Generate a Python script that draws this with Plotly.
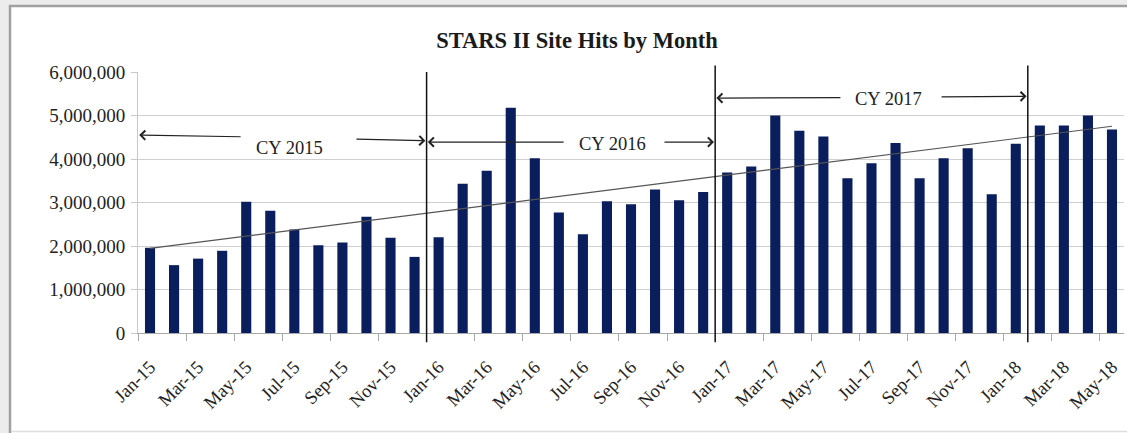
import numpy as np
import plotly.graph_objects as go

months = ["Jan-15","Feb-15","Mar-15","Apr-15","May-15","Jun-15","Jul-15","Aug-15","Sep-15","Oct-15","Nov-15","Dec-15",
          "Jan-16","Feb-16","Mar-16","Apr-16","May-16","Jun-16","Jul-16","Aug-16","Sep-16","Oct-16","Nov-16","Dec-16",
          "Jan-17","Feb-17","Mar-17","Apr-17","May-17","Jun-17","Jul-17","Aug-17","Sep-17","Oct-17","Nov-17","Dec-17",
          "Jan-18","Feb-18","Mar-18","Apr-18","May-18"]
hits = [1960000,1560000,1710000,1890000,3020000,2810000,2380000,2020000,2080000,2670000,2190000,1750000,
        2200000,3430000,3730000,5180000,4020000,2770000,2270000,3030000,2960000,3300000,3050000,3240000,
        3690000,3830000,5000000,4650000,4520000,3560000,3900000,4370000,3560000,4020000,4250000,3190000,
        4350000,4770000,4770000,5000000,4680000]
y_ticks = [0,1000000,2000000,3000000,4000000,5000000,6000000]
separators = ["Jan-16","Jan-17","Feb-18"]
period_labels = ["CY 2015","CY 2016","CY 2017"]

FONT = "Liberation Serif"
W, H = 1127, 433
ML, MR, MT, MB = 138, 3, 72, 100
PW, PH = W - ML - MR, H - MT - MB

idx = np.arange(len(hits))
slope, intercept = np.polyfit(idx, hits, 1)
trend = slope * idx + intercept

fig = go.Figure()
fig.add_trace(go.Bar(x=months, y=hits, marker=dict(color="#0a1d5c", line=dict(width=0)), showlegend=False))
fig.add_trace(go.Scatter(x=months, y=trend, mode="lines", line=dict(color="#555555", width=1.1), showlegend=False))

def px2paper_x(px):
    return (px - ML) / PW

def px2paper_y(py):
    return (H - MB - py) / PH

shapes = [
    dict(type="rect", xref="paper", yref="paper", layer="below",
         x0=px2paper_x(-5), x1=px2paper_x(9), y0=px2paper_y(440), y1=px2paper_y(-5),
         fillcolor="#ececec", line=dict(width=0)),
    dict(type="rect", xref="paper", yref="paper", layer="below",
         x0=px2paper_x(-5), x1=px2paper_x(1140), y0=px2paper_y(5), y1=px2paper_y(-5),
         fillcolor="#ececec", line=dict(width=0)),
    dict(type="line", xref="paper", yref="paper", layer="below",
         x0=px2paper_x(10), x1=px2paper_x(10), y0=px2paper_y(440), y1=px2paper_y(5),
         line=dict(color="#a0a0a0", width=2.5)),
    dict(type="line", xref="paper", yref="paper", layer="below",
         x0=px2paper_x(9), x1=px2paper_x(1140), y0=px2paper_y(6), y1=px2paper_y(6),
         line=dict(color="#a0a0a0", width=2.5)),
    dict(type="line", xref="paper", yref="paper", layer="below",
         x0=px2paper_x(11), x1=px2paper_x(1140), y0=px2paper_y(431.5), y1=px2paper_y(431.5),
         line=dict(color="#dedede", width=1.5)),
]
sep_top = [1.0, 1.025, 1.025]
for s, top in zip(separators, sep_top):
    xi = months.index(s) - 0.5
    shapes.append(dict(type="line", xref="x", yref="paper", x0=xi, x1=xi, y0=-0.035, y1=top,
                       line=dict(color="#111111", width=1.5), layer="above"))

# annotation layout
spans = [(-0.5, 11.5), (11.5, 23.5), (23.5, 36.5)]
label_x = [5.78, 19.25, 30.7]
label_y = [4250000, 4340000, 5390000]
left_end = [3.83, 17.26, 28.77]
right_start = [8.52, 21.33, 32.85]
arr_y_left = [4550000, 4390000, 5400000]
arr_y_right = [4420000, 4390000, 5440000]

annotations = []
for i, lab in enumerate(period_labels):
    annotations.append(dict(x=label_x[i], y=label_y[i], xref="x", yref="y", text=lab, showarrow=False,
                            font=dict(family=FONT, size=18.5, color="#222222")))
    annotations.append(dict(x=spans[i][0] + 0.05, y=arr_y_left[i], ax=left_end[i], ay=arr_y_left[i] - (arr_y_left[i]-arr_y_right[i])*0.3,
                            xref="x", yref="y", axref="x", ayref="y", text="", showarrow=True,
                            arrowhead=4, arrowsize=1.5, arrowwidth=1.2, arrowcolor="#222222", standoff=0))
    annotations.append(dict(x=spans[i][1] - 0.05, y=arr_y_right[i], ax=right_start[i], ay=arr_y_right[i] + (arr_y_left[i]-arr_y_right[i])*0.3,
                            xref="x", yref="y", axref="x", ayref="y", text="", showarrow=True,
                            arrowhead=4, arrowsize=1.5, arrowwidth=1.2, arrowcolor="#222222", standoff=0))

fig.update_layout(
    width=W, height=H,
    margin=dict(l=ML, r=MR, t=MT, b=MB, autoexpand=False),
    paper_bgcolor="white", plot_bgcolor="white",
    title=dict(text="<b>STARS II Site Hits by Month</b>", x=(577 / W), xanchor="center", y=1 - 40 / H, yanchor="middle",
               font=dict(family=FONT, size=22.5, color="#1a1a1a"), automargin=False),
    bargap=0.58,
    shapes=shapes, annotations=annotations,
    font=dict(family=FONT, color="#222222"),
)
fig.update_xaxes(type="category", tickmode="linear", dtick=2, tick0=0, tickson="boundaries",
                 ticks="outside", ticklen=7, tickcolor="#a8a8a8", tickangle=-45, automargin=False,
                 tickfont=dict(family=FONT, size=18.5, color="#222222"), ticklabelstandoff=15,
                 showline=True, linecolor="#a8a8a8", linewidth=1, showgrid=False,
                 range=[-0.5, len(months) - 0.5])
fig.update_yaxes(range=[0, 6000000], tickvals=y_ticks, tickformat=",d", ticks="outside", ticklen=6,
                 tickcolor="#c8c8c8", showgrid=True, gridcolor="#cfcfcf", gridwidth=1, automargin=False,
                 showline=True, linecolor="#c8c8c8", zeroline=False, ticklabelstandoff=2,
                 tickfont=dict(family=FONT, size=19, color="#222222"))

fig.write_html("out.html", config={"displayModeBar": False},
               post_script="document.body.style.margin='0px';document.body.style.overflow='hidden';")
